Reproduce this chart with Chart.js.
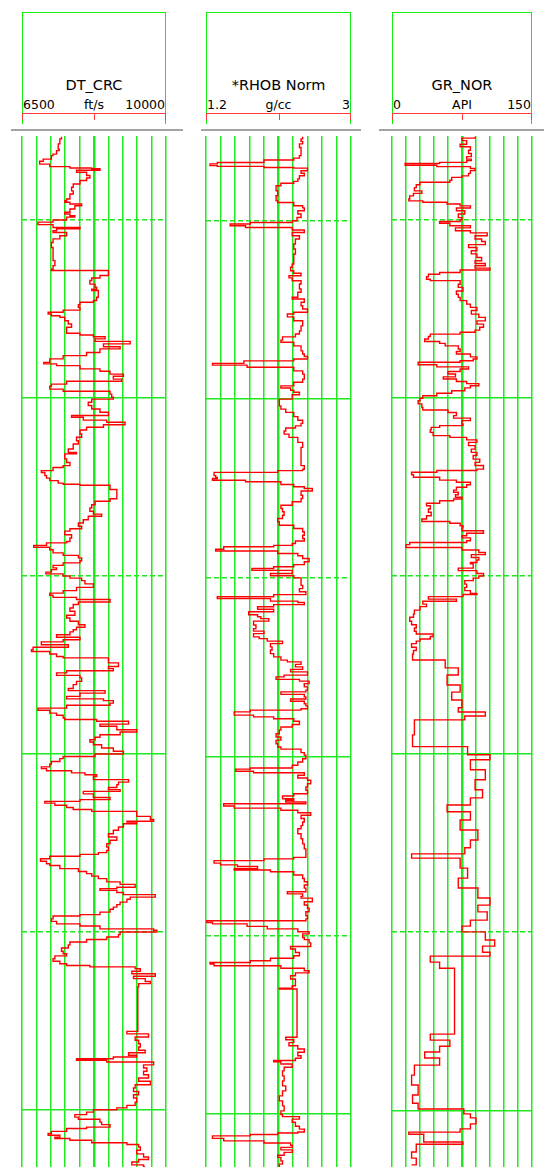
<!DOCTYPE html>
<html>
<head>
<meta charset="utf-8">
<title>Log tracks</title>
<script src="https://cdn.jsdelivr.net/npm/chart.js@4.4.1/dist/chart.umd.min.js"></script>
<style>
  html, body { margin: 0; padding: 0; background: #fff; overflow: hidden; }
  body { position: relative; width: 544px; height: 1167px; font-family: 'DejaVu Sans', sans-serif; color: #000; }
  .abs { position: absolute; }
  .hdr { position: absolute; top: 12px; height: 112px; }
  .hdr .title { position: absolute; left: 0; right: 0; top: 66px; text-align: center; font-size: 14.5px; line-height: 1; white-space: nowrap; }
  .hdr .lab { position: absolute; top: 87px; font-size: 12.5px; line-height: 1; white-space: nowrap; }
  .sep { position: absolute; top: 129px; height: 2px; background: #a3a3a3; }
  .track { position: absolute; }
</style>
</head>
<body>
<script>
'use strict';

// ─── Curve scales (header) ────────────────────────────────────────────────────
const TITLES       = ['DT_CRC', '*RHOB Norm', 'GR_NOR'];
const UNITS        = ['ft/s', 'g/cc', 'API'];
const SCALE_MIN    = [6500, 1.2, 0];
const SCALE_MAX    = [10000, 3, 150];
const SCALE_LABELS = [['6500', '10000'], ['1.2', '3'], ['0', '150']];

// depth grid (ft): solid every 100, dashed at the 50s
const DEPTH_LINES = [5050, 5100, 5150, 5200, 5250, 5300];

// ─── Log curves: [depth ft, value] ────────────────────────────────────────────
const DT_CRC = [
  [5026.6,7460],[5027.2,7420],[5028.2,7420],[5028.6,7380],[5030.1,7405],[5030.5,7340],[5031.5,7255],[5031.9,7215],[5032.9,7015],[5033.5,6930],
  [5034.3,7175],[5035.0,7665],[5035.4,8195],[5035.6,8395],[5036.0,7825],[5036.6,8070],[5037.5,8150],[5038.2,8070],[5038.9,7910],[5039.9,7745],
  [5040.8,7705],[5041.8,7745],[5042.7,7665],[5044.1,7585],[5044.6,7540],[5045.0,7665],[5045.5,7950],[5046.0,7785],[5046.9,7665],[5047.8,7540],
  [5048.3,7665],[5048.8,7785],[5049.2,7585],[5050.0,7255],[5050.6,6890],[5051.3,7255],[5052.1,7910],[5052.5,7340],[5053.0,7255],[5053.5,7585],
  [5054.4,7420],[5055.3,7255],[5056.3,7215],[5057.7,7255],[5059.5,7255],[5061.4,7300],[5062.8,7255],[5063.8,7215],[5064.2,8600],[5065.6,8395],
  [5066.3,8195],[5067.0,8150],[5068.0,8275],[5068.9,8315],[5069.4,8195],[5069.8,8355],[5070.8,8355],[5071.7,8315],[5072.6,8235],[5073.1,7910],
  [5073.8,7870],[5074.5,7910],[5075.3,7500],[5075.9,7135],[5076.4,7215],[5076.9,7420],[5077.3,7540],[5078.3,7625],[5079.2,7705],[5080.1,7585],
  [5081.1,7585],[5081.8,7910],[5082.3,8235],[5082.8,8520],[5083.4,8275],[5084.1,9130],[5084.8,8480],[5085.6,8885],[5086.2,8395],[5087.2,8070],
  [5088.1,7500],[5089.0,7175],[5090.0,7030],[5090.4,7340],[5090.9,7910],[5091.8,8395],[5092.5,8640],[5093.3,8965],[5093.9,8720],[5094.7,8925],
  [5095.3,7585],[5096.1,7215],[5096.7,7175],[5097.5,7500],[5098.1,8640],[5098.9,8680],[5099.8,8720],[5100.3,8195],[5101.2,8110],[5102.1,8195],
  [5103.1,8395],[5104.0,8600],[5104.9,7705],[5105.4,7990],[5106.2,8560],[5106.8,9005],[5107.5,8480],[5108.2,8070],[5109.0,7910],[5110.1,7950],
  [5111.0,7825],[5112.0,7870],[5112.9,7745],[5114.3,7625],[5115.3,7825],[5115.7,7540],[5117.1,7585],[5118.1,7665],[5119.0,7500],[5119.5,7255],
  [5120.4,6970],[5120.9,7055],[5121.8,7095],
  [5122.5,7175],[5123.2,7380],[5123.9,7500],[5124.2,7910],[5124.5,8640],[5125.7,8805],[5127.2,8805],[5128.3,8640],[5129.0,8275],[5130.0,8195],
  [5130.9,8150],[5131.8,8235],[5132.6,8435],[5133.2,8110],[5134.2,7990],[5135.1,7870],[5136.0,7950],[5136.7,7665],[5137.4,7540],[5138.4,7705],
  [5139.3,7665],[5140.3,7585],[5140.7,7095],[5141.4,6785],[5141.9,7175],[5142.6,7255],[5143.5,7500],[5144.2,7870],[5144.9,7950],[5145.7,7910],
  [5146.3,7500],[5147.0,7255],[5147.7,7340],[5148.2,7215],[5148.9,7080],[5149.4,7500],[5150.0,7665],[5150.6,7950],[5151.3,8030],[5152.2,8235],
  [5153.2,7825],[5154.1,7500],[5154.8,7175],[5155.4,7255],[5156.0,7825],[5156.6,8640],[5157.3,7870],[5158.0,7745],[5159.0,7665],[5159.9,7785],
  [5161.0,7585],[5161.8,7665],[5162.7,7870],[5163.7,8030],[5164.4,7825],[5165.1,7745],[5165.7,7665],[5166.5,7340],[5167.2,7910],[5167.9,7500],
  [5168.5,6970],[5169.3,7625],[5170.0,6770],[5170.7,6730],[5171.2,7175],[5171.9,7340],[5172.6,7500],[5173.0,8600],[5174.0,8600],[5174.4,8845],
  [5175.4,8600],[5176.0,8720],[5176.6,7585],[5177.2,7340],[5177.9,7910],[5178.6,7950],[5179.6,7825],[5180.5,7745],[5181.6,7625],[5182.2,8520],
  [5182.9,7910],[5183.8,7585],[5184.5,8480],[5185.0,8720],[5185.7,8640],[5186.3,7585],[5187.1,6890],[5187.7,7175],[5188.5,7340],[5189.1,7500],
  [5189.9,7540],[5190.3,8315],[5190.8,9090],[5191.6,8395],[5192.2,8805],[5193.2,9290],[5193.8,8885],[5194.6,8395],[5195.3,8275],[5196.0,8150],
  [5196.6,8235],[5197.4,8435],[5198.3,8720],[5199.2,8965],[5200.0,8275],[5200.7,7500],[5201.3,7420],[5202.1,7215],[5202.8,7175],[5203.6,6970],
  [5204.1,7095],[5204.7,7705],[5205.3,8030],[5205.8,8315],[5206.3,8235],[5207.2,9090],[5207.9,8845],[5208.6,8805],[5209.4,8600],[5210.0,8885],
  [5210.5,7990],[5211.2,8235],[5212.2,8640],[5212.8,7910],[5213.3,7055],[5213.8,7300],[5214.4,7585],[5215.0,7745],[5215.6,8195],[5216.1,9290],
  [5217.5,9620],[5218.4,9700],[5218.9,9050],
  [5219.1,9290],[5219.6,8965],[5220.5,8845],[5221.4,8720],[5222.4,8600],[5223.3,8805],[5224.2,8640],[5225.2,8560],[5226.1,8600],[5227.1,8560],
  [5227.7,8355],[5228.2,7910],[5228.7,7175],[5229.4,6950],[5230.1,7095],[5230.8,7175],[5231.3,7420],[5232.2,7870],[5233.0,8070],[5233.6,8195],
  [5234.3,8355],[5235.0,8560],[5235.9,8885],[5236.6,9250],[5237.4,8805],[5237.8,8395],[5238.3,8805],[5238.9,8965],[5239.5,9740],[5240.2,9130],
  [5240.8,9050],[5241.6,8885],[5242.3,8805],[5243.0,8720],[5243.6,8640],[5244.4,8395],[5245.1,7910],[5245.5,7255],[5246.3,7215],[5247.0,7340],
  [5247.7,7910],[5248.3,8395],[5249.1,9700],[5249.5,9780],[5250.0,8885],[5250.7,8845],[5251.4,8560],[5252.1,8070],[5252.8,7665],[5253.6,7625],
  [5254.5,7460],[5255.4,7500],[5256.1,7585],[5256.7,7300],[5257.5,7255],[5258.2,7420],[5258.9,7585],[5259.4,8150],[5259.8,9250],[5260.3,9375],
  [5261.0,9170],[5261.7,9740],[5262.4,9210],[5263.1,9495],[5263.9,9620],[5264.5,9335],[5265.4,9315],[5277.2,9315],[5277.9,9050],[5278.6,9575],
  [5279.5,9250],[5280.4,9335],[5281.4,9375],[5282.3,9335],[5283.2,9495],[5283.9,9090],[5284.6,9290],[5285.1,8720],[5285.6,7825],[5286.0,8560],
  [5286.5,9700],[5287.3,9455],[5288.2,9535],[5289.1,9455],[5290.1,9575],[5291.0,9335],[5291.9,9620],[5292.9,9250],[5293.8,9210],[5294.8,9335],
  [5295.7,9210],[5296.6,9290],[5297.8,9250],[5298.7,9050],[5299.4,8805],[5299.9,8235],[5300.6,8070],[5301.3,7785],[5302.0,7870],[5302.6,8395],
  [5303.4,8435],[5304.1,8640],[5304.8,8070],[5305.2,7585],[5306.0,7215],[5306.6,7135],[5307.1,7420],[5307.6,7300],[5308.0,7665],[5308.5,8195],
  [5309.2,9050],[5309.7,9335],[5310.4,9375],[5311.3,9290],[5312.3,9455],[5313.2,9575],[5313.9,9335],[5314.6,9170],[5315.4,9455],[5316.0,9495]
];

const RHOB_NORM = [
  [5026.6,2.40],[5027.2,2.38],[5027.9,2.40],[5028.6,2.36],[5029.6,2.38],[5031.0,2.38],[5031.9,2.36],[5032.6,2.29],[5033.1,1.92],[5033.8,1.34],
  [5034.2,1.25],[5034.7,1.34],[5034.9,1.92],[5035.2,2.29],[5035.4,2.46],[5036.1,2.38],[5036.8,2.42],[5037.5,2.36],[5038.4,2.34],[5039.1,2.29],
  [5039.6,2.13],[5040.3,2.07],[5041.7,2.09],[5043.1,2.07],[5044.5,2.09],[5045.0,2.29],[5045.9,2.40],[5046.5,2.42],[5047.3,2.34],[5048.2,2.38],
  [5049.2,2.33],[5050.1,2.27],[5050.6,1.75],[5051.0,1.50],[5051.5,1.69],[5052.0,2.27],[5052.7,2.42],[5053.4,2.27],[5054.3,2.36],[5055.2,2.31],
  [5056.6,2.29],[5058.0,2.31],[5059.4,2.29],[5060.8,2.29],[5062.2,2.27],[5063.1,2.25],[5064.1,2.29],[5064.8,2.38],[5065.5,2.23],[5066.1,2.27],
  [5066.9,2.38],[5067.8,2.36],[5069.2,2.38],[5070.1,2.34],[5071.5,2.27],[5072.0,2.42],[5072.9,2.38],[5073.9,2.40],[5074.8,2.46],[5075.7,2.29],
  [5076.2,2.21],[5077.0,2.29],[5078.1,2.40],[5079.5,2.38],[5080.9,2.36],[5081.8,2.31],[5082.6,2.15],[5083.5,2.13],[5084.1,2.29],[5085.1,2.38],
  [5086.5,2.40],[5087.4,2.42],[5088.1,2.46],[5088.8,2.29],[5089.3,1.67],[5090.0,1.28],[5090.5,1.71],[5091.1,2.29],[5092.1,2.40],[5093.0,2.42],
  [5094.4,2.40],[5095.3,2.29],[5096.3,2.13],[5096.9,2.25],[5097.5,2.29],[5098.1,2.36],[5098.8,2.27],[5100.0,2.11],[5100.9,2.11],[5101.9,2.13],
  [5102.8,2.19],[5103.7,2.29],[5104.9,2.34],[5105.9,2.40],[5106.8,2.38],[5107.5,2.31],[5108.1,2.19],[5108.9,2.17],[5109.8,2.23],[5110.7,2.34],
  [5112.1,2.40],[5113.5,2.38],[5115.4,2.38],[5117.3,2.38],[5118.6,2.42],[5119.6,2.40],[5120.0,2.09],[5120.5,1.30],[5121.4,1.32],[5121.9,1.34],
  [5122.2,1.28],[5122.7,1.69],[5123.1,2.13],[5123.9,2.29],[5124.5,2.42],[5125.0,2.52],[5125.7,2.38],[5126.9,2.40],[5127.8,2.38],[5128.7,2.27],
  [5129.7,2.13],[5130.6,2.15],[5131.5,2.17],[5132.5,2.15],[5133.4,2.09],[5134.3,2.11],[5135.3,2.29],[5136.2,2.40],[5137.1,2.42],[5138.1,2.40],
  [5139.0,2.42],[5139.7,2.31],[5140.4,2.27],[5140.9,2.04],[5141.3,1.42],[5142.0,1.32],[5142.5,2.09],[5143.2,2.34],[5143.8,2.40],[5144.6,2.48],
  [5145.5,2.42],[5146.3,2.29],[5146.9,2.04],[5147.4,1.77],[5147.9,2.27],[5148.8,2.00],[5149.4,2.29],[5150.0,2.38],[5151.1,2.38],[5152.1,2.40],
  [5153.0,2.36],[5153.9,2.44],[5154.7,2.04],[5155.3,1.34],[5155.8,2.00],[5156.5,2.34],[5156.9,2.42],[5157.5,2.04],[5158.1,1.84],[5158.8,2.04],
  [5159.5,1.73],[5160.3,1.84],[5160.9,1.88],[5161.4,1.98],[5162.1,1.79],[5163.2,1.82],[5164.2,1.79],[5164.9,1.92],[5165.6,1.79],[5166.5,1.86],
  [5167.0,1.96],[5167.7,2.15],[5168.4,2.00],[5169.3,2.02],[5170.2,2.00],[5171.2,2.04],[5172.1,2.13],[5173.0,2.21],[5173.5,2.38],[5174.2,2.31],
  [5174.9,2.40],[5175.6,2.25],[5176.3,2.46],[5177.2,2.17],[5177.7,2.07],[5178.4,2.36],[5178.9,2.48],[5179.6,2.42],[5180.5,2.46],[5181.4,2.44],
  [5181.9,2.13],[5182.6,2.42],[5183.3,2.44],[5183.9,2.25],[5184.5,2.42],[5185.2,2.44],[5185.8,2.46],[5186.6,2.38],[5187.0,1.75],[5187.5,1.55],
  [5188.0,1.55],[5188.4,1.79],[5188.9,2.04],[5189.4,2.29],[5190.1,2.36],[5191.0,2.27],[5191.7,2.13],[5192.6,2.11],[5193.6,2.07],[5194.5,2.13],
  [5195.4,2.07],[5196.4,2.09],[5197.3,2.13],[5197.9,2.38],[5198.9,2.42],[5199.6,2.44],[5200.6,2.40],[5201.5,2.34],[5202.4,2.27],[5203.2,1.75],
  [5203.5,1.57],[5204.1,1.79],[5204.5,2.42],[5205.2,2.34],[5206.0,2.46],[5206.6,2.50],[5207.6,2.46],[5208.5,2.44],[5209.4,2.46],[5210.4,2.29],
  [5211.0,2.15],[5211.8,2.29],[5212.2,2.19],[5212.7,2.44],[5213.2,1.42],[5213.8,1.55],[5214.4,2.13],[5215.0,2.34],[5215.7,2.50],[5216.4,2.38],
  [5217.3,2.42],[5218.3,2.40],
  [5219.3,2.38],[5220.2,2.34],[5221.6,2.38],[5223.0,2.40],[5224.4,2.42],[5225.8,2.44],[5227.2,2.44],[5228.2,2.29],[5228.6,1.92],
  [5229.1,1.30],[5229.8,1.38],[5230.3,1.59],[5230.7,1.84],[5231.3,1.55],[5231.7,2.00],[5232.2,2.29],[5233.1,2.40],[5234.1,2.42],[5235.0,2.46],
  [5235.9,2.42],[5236.8,2.44],[5237.8,2.21],[5238.4,2.40],[5239.1,2.38],[5239.6,2.52],[5240.6,2.42],[5241.5,2.46],[5242.4,2.48],[5243.4,2.44],
  [5244.5,2.46],[5245.4,2.44],[5245.9,1.21],[5246.4,1.28],[5246.8,1.71],[5247.5,1.96],[5248.2,2.34],[5249.0,2.48],[5249.6,2.40],[5250.6,2.42],
  [5251.2,2.48],[5252.1,2.50],[5253.1,2.25],[5253.8,2.31],[5254.8,2.36],[5255.7,2.29],[5256.4,2.00],[5257.1,1.75],[5257.6,1.25],[5258.0,1.30],
  [5258.5,2.13],[5259.2,2.42],[5259.9,2.48],[5260.5,2.31],[5261.3,2.25],[5262.2,2.31],[5263.2,2.31],[5264.1,2.27],[5264.8,2.11],[5265.0,2.33],
  [5278.1,2.33],[5278.5,2.19],[5279.2,2.29],[5280.0,2.23],[5280.9,2.34],[5281.8,2.42],[5282.7,2.34],[5283.7,2.38],[5284.4,2.31],[5285.0,2.04],
  [5285.4,2.13],[5286.0,2.27],[5286.9,2.17],[5287.9,2.15],[5289.3,2.17],[5290.7,2.15],[5292.1,2.19],[5293.5,2.15],[5294.9,2.11],[5296.3,2.15],
  [5297.7,2.17],[5299.1,2.13],[5300.1,2.15],[5300.7,2.36],[5301.4,2.27],[5302.3,2.31],[5303.4,2.36],[5304.2,2.42],[5305.0,2.34],[5305.3,2.09],
  [5305.7,1.75],[5306.1,1.28],[5306.8,1.42],[5307.5,1.92],[5308.1,2.25],[5308.7,2.27],[5309.3,2.13],[5310.0,2.27],[5310.7,2.17],[5311.5,2.09],
  [5312.1,2.13],[5313.1,2.15],[5314.0,2.11],[5314.9,2.13]
];

const GR_NOR = [
  [5026.7,89],[5027.1,75],[5027.8,80],[5028.8,73],[5029.5,84],[5030.5,82],[5031.4,85],[5032.3,80],[5033.0,85],[5033.4,80],
  [5033.9,51],[5034.2,14],[5034.7,48],[5035.1,84],[5035.6,89],[5036.2,84],[5037.0,82],[5037.7,75],[5038.1,64],[5038.9,62],
  [5039.5,30],[5040.2,26],[5041.0,24],[5041.9,32],[5042.6,23],[5043.3,19],[5044.2,18],[5044.7,33],[5045.1,59],[5045.6,73],
  [5046.1,84],[5046.7,69],[5047.5,78],[5048.4,71],[5049.4,75],[5050.0,73],[5050.5,51],[5051.0,62],[5051.7,84],[5052.3,68],
  [5053.1,84],[5053.7,102],[5054.5,89],[5055.4,96],[5056.1,100],[5057.0,82],[5057.8,91],[5058.7,85],[5059.6,91],[5060.6,96],
  [5061.5,89],[5062.3,100],[5062.9,89],[5063.6,105],[5064.1,73],[5064.8,51],[5065.3,39],[5066.0,37],[5066.7,41],[5067.1,73],
  [5068.1,71],[5069.0,76],[5070.0,69],[5070.9,71],[5071.8,73],[5072.7,80],[5073.7,84],[5074.6,91],[5075.5,85],[5076.5,93],
  [5077.4,100],[5078.4,91],[5079.3,98],[5080.2,94],[5081.0,89],[5081.6,73],[5082.1,41],[5082.8,39],[5083.5,35],[5084.2,51],
  [5084.7,57],[5085.4,71],[5086.3,73],[5087.0,69],[5087.7,84],[5088.5,91],[5089.1,87],[5089.6,73],[5090.0,28],[5090.7,48],
  [5091.3,82],[5091.9,73],[5092.6,60],[5093.3,68],[5094.1,55],[5094.7,69],[5095.4,80],[5096.0,93],[5096.6,84],[5097.2,78],
  [5098.0,64],[5098.7,48],[5099.4,33],[5100.1,30],[5100.8,28],[5101.7,32],[5102.7,33],[5103.4,60],[5104.1,69],[5105.0,66],
  [5105.7,84],[5106.4,75],[5107.4,76],[5107.8,51],[5108.3,42],[5109.0,41],[5109.7,44],[5110.6,62],[5111.1,80],[5111.8,91],
  [5112.5,82],[5113.4,89],[5114.4,85],[5115.3,91],[5116.2,87],[5117.2,94],[5118.1,89],[5119.0,98],[5120.0,91],[5120.4,48],
  [5120.9,21],[5121.6,23],[5122.3,51],[5123.1,69],[5123.7,84],[5124.4,80],[5125.1,69],[5125.9,66],[5126.5,71],[5127.2,68],
  [5127.9,75],[5128.4,66],[5128.9,51],[5129.6,37],[5130.3,41],[5131.2,39],[5132.1,42],[5133.1,37],[5134.0,32],[5134.7,62],
  [5135.2,73],[5135.9,76],[5136.5,75],[5137.3,98],[5138.0,80],[5138.7,75],[5139.3,84],[5140.1,80],[5140.6,19],[5141.2,15],
  [5142.0,75],[5142.7,93],[5143.4,100],[5144.0,85],[5144.8,93],[5145.5,91],[5146.2,84],[5146.6,87],[5147.8,71],[5148.5,91],
  [5149.3,98],[5150.0,93],[5150.6,87],[5151.3,78],[5152.3,80],[5153.2,78],[5154.1,84],[5154.9,91],[5155.2,76],[5155.8,39],
  [5156.5,69],[5157.1,33],[5157.9,37],[5158.6,30],[5159.6,24],[5160.7,23],[5161.6,19],[5162.7,21],[5163.7,26],[5164.6,24],
  [5165.5,26],[5166.3,44],[5167.0,41],[5167.7,30],[5168.3,26],[5169.0,21],[5170.0,26],[5170.9,23],[5171.9,22],
  [5173.6,57],[5175.8,71],[5177.8,59],[5180.6,73],[5182.6,64],[5184.8,75],[5187.0,71],[5188.2,100],[5189.3,78],[5190.4,24],
  [5194.6,22],[5197.9,81],[5200.2,105],[5201.6,84],[5204.4,100],[5207.2,89],[5210.0,97],[5212.3,84],[5214.3,59],[5216.2,84],
  [5218.5,73],[5221.3,92],[5224.1,84],[5226.3,78],[5228.0,21],[5229.2,73],[5232.0,81],[5234.8,71],[5237.6,92],[5240.4,105],
  [5242.4,92],[5244.3,102],[5246.6,84],[5248.3,75],[5249.9,100],[5252.2,110],[5253.9,97],[5255.6,105],[5256.7,41],[5258.4,51],
  [5260.1,67],[5277.5,67],[5278.6,41],[5280.3,62],[5282.0,51],[5283.6,35],[5285.3,51],[5287.3,24],[5290.1,21],[5292.9,28],
  [5295.7,22],[5298.0,28],[5299.6,77],[5301.0,84],[5302.1,90],[5303.8,84],[5305.2,73],[5306.1,18],[5306.7,34],[5308.9,76],
  [5309.5,26],[5311.7,21],[5313.4,26],[5315.3,21]
];

const LOGS = [DT_CRC, RHOB_NORM, GR_NOR];

// ─── Page layout ──────────────────────────────────────────────────────────────
const PAD = 4;
const PLOT_TOP = 136;
const PLOT_BOTTOM = 1167;
const TRACKS = [
  { left: 22,  width: 144, depthMin: 5026.4, depthMax: 5316.0 },
  { left: 206, width: 145, depthMin: 5026.4, depthMax: 5314.8 },
  { left: 392, width: 140, depthMin: 5026.5, depthMax: 5315.9 },
];
const SEPARATORS = [[11, 183], [201, 361], [379, 544]];

const GREEN = '#1fe81f';
const HDR_GREEN = '#14f014';
const SCALE_RED = '#ff3b3b';

function el(cls, styles, parent, text) {
  const d = document.createElement('div');
  if (cls) d.className = cls;
  Object.assign(d.style, styles || {});
  if (text != null) d.textContent = text;
  (parent || document.body).appendChild(d);
  return d;
}

// ─── Headers ──────────────────────────────────────────────────────────────────
function buildHeader(i) {
  const t = TRACKS[i];
  const h = el('hdr', { left: t.left + 'px', width: t.width + 'px' });
  // green box
  el('abs', { left: 0, top: 0, width: t.width + 'px', height: '1px', background: HDR_GREEN }, h);
  el('abs', { left: 0, top: 0, width: '1px', height: '112px', background: HDR_GREEN }, h);
  el('abs', { left: (t.width - 1) + 'px', top: 0, width: '1px', height: '112px', background: HDR_GREEN }, h);
  // texts
  el('title', {}, h, TITLES[i]);
  el('lab', { left: '1px' }, h, SCALE_LABELS[i][0]);
  el('lab', { left: 0, width: t.width + 'px', textAlign: 'center' }, h, UNITS[i]);
  el('lab', { right: '1px' }, h, SCALE_LABELS[i][1]);
  // red scale bar with end and mid ticks
  el('abs', { left: 0, top: '100.5px', width: t.width + 'px', height: '1px', background: SCALE_RED }, h);
  [0, Math.round(t.width / 2), t.width - 1].forEach(x => {
    el('abs', { left: x + 'px', top: '100.5px', width: '1px', height: '7.5px', background: SCALE_RED }, h);
  });
}

// ─── Track charts ─────────────────────────────────────────────────────────────
function buildTrack(i) {
  const t = TRACKS[i];
  const box = el('track', {
    left: (t.left - PAD) + 'px',
    top: (PLOT_TOP - PAD) + 'px',
    width: (t.width + 2 * PAD) + 'px',
    height: (PLOT_BOTTOM - PLOT_TOP + 2 * PAD) + 'px',
  });
  const canvas = document.createElement('canvas');
  box.appendChild(canvas);

  const min = SCALE_MIN[i];
  const max = SCALE_MAX[i];

  new Chart(canvas, {
    type: 'line',
    data: {
      datasets: [{
        data: LOGS[i].map(([depth, v]) => ({ x: v, y: depth })),
        borderColor: '#ff0000',
        borderWidth: 1.4,
        pointRadius: 0,
        stepped: 'after',
        tension: 0,
      }],
    },
    options: {
      responsive: true,
      maintainAspectRatio: false,
      animation: false,
      events: [],
      layout: { padding: PAD },
      plugins: { legend: { display: false }, tooltip: { enabled: false } },
      scales: {
        x: {
          type: 'linear', min, max,
          afterBuildTicks: s => {
            s.ticks = Array.from({ length: 11 }, (_, k) => ({ value: min + (max - min) * k / 10 }));
          },
          ticks: { display: false },
          border: { display: false },
          grid: { drawTicks: false, color: GREEN, lineWidth: c => (c.index === 5 ? 2.5 : 1.5) },
        },
        y: {
          type: 'linear', reverse: true, min: t.depthMin, max: t.depthMax,
          afterBuildTicks: s => { s.ticks = DEPTH_LINES.map(v => ({ value: v })); },
          ticks: { display: false },
          border: { display: false, dash: c => (c.tick && c.tick.value % 100 ? [5, 3] : []) },
          grid: { drawTicks: false, color: GREEN, lineWidth: 1.5 },
        },
      },
    },
  });
}

SEPARATORS.forEach(([a, b]) => el('sep', { left: a + 'px', width: (b - a) + 'px' }));
TRACKS.forEach((_, i) => { buildHeader(i); buildTrack(i); });
</script>
</body>
</html>
